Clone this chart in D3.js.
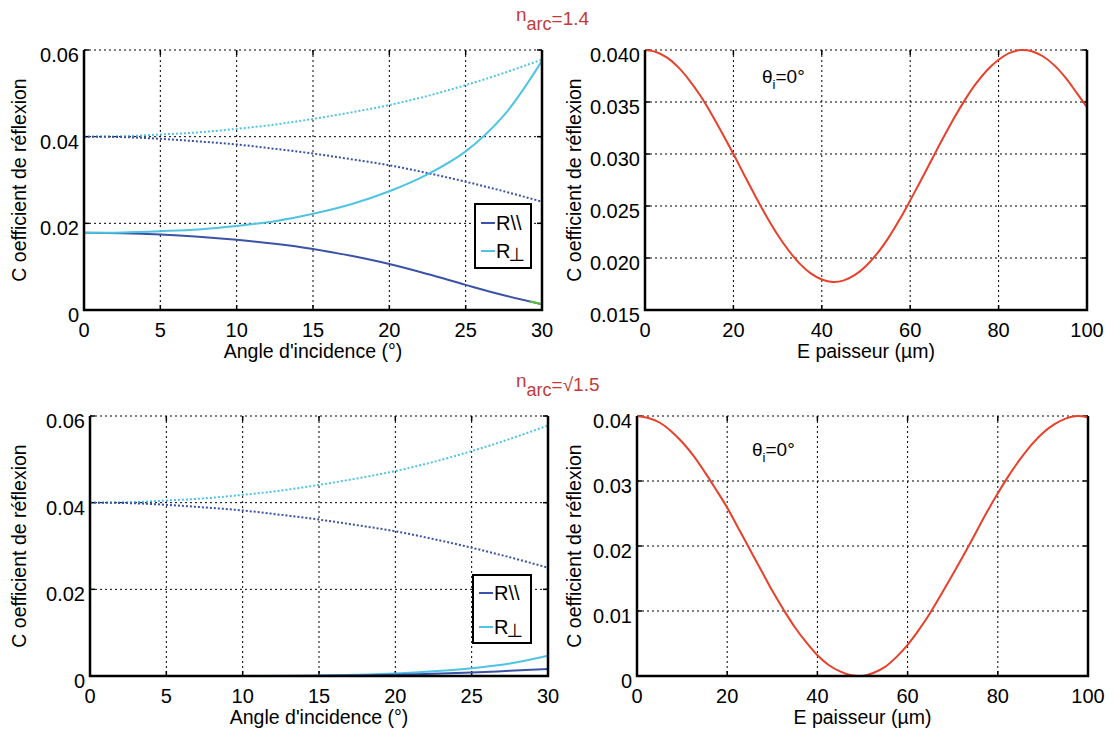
<!DOCTYPE html>
<html><head><meta charset="utf-8">
<script src="https://cdn.jsdelivr.net/npm/d3@7"></script>
<style>
body{margin:0;background:#fff}
text{font-family:"Liberation Sans",Arial,sans-serif;fill:#000}
</style>
</head><body>
<svg id="c" width="1114" height="731"></svg>
<script>
// ---------- data ----------
const angles = [0,2.5,5,7.5,10,12.5,15,17.5,20,22.5,25,27.5,30];
const rsBare = [0.0400,0.0401,0.0405,0.0410,0.0418,0.0428,0.0441,0.0456,0.0473,0.0494,0.0519,0.0547,0.0578];
const rpBare = [0.0400,0.0399,0.0395,0.0389,0.0382,0.0372,0.0361,0.0348,0.0334,0.0316,0.0296,0.0274,0.0250];
const rPerp14 = [0.0178,0.0179,0.0182,0.0186,0.0194,0.0205,0.0222,0.0244,0.0274,0.0313,0.0366,0.0449,0.0575];
const rPar14  = [0.0178,0.0177,0.0174,0.0169,0.0162,0.0153,0.0141,0.0125,0.0106,0.0083,0.0058,0.0034,0.0013];
const greenAngles = [29.2,30];
const greenVals = [0.0020,0.0013];
const rPerpSqrt = [0,0,0,0,0.00002,0.00005,0.0001,0.0003,0.0006,0.0011,0.0018,0.0029,0.0047];
const rParSqrt  = [0,0,0,0,0.00001,0.00002,0.00005,0.0001,0.0003,0.0005,0.0008,0.0012,0.0016];

const thickness = [0,2.5,5,7.5,10,12.5,15,17.5,20,22.5,25,27.5,30,32.5,35,37.5,40,42.5,45,47.5,50,52.5,55,57.5,60,62.5,65,67.5,70,72.5,75,77.5,80,82.5,85,87.5,90,92.5,95,97.5,100];
const rThick14 = [0.04000,0.03981,0.03926,0.03835,0.03711,0.03562,0.03388,0.03198,0.03000,0.02794,0.02592,0.02400,0.02224,0.02072,0.01946,0.01852,0.01793,0.01770,0.01785,0.01837,0.01924,0.02042,0.02189,0.02362,0.02554,0.02753,0.02956,0.03158,0.03351,0.03528,0.03683,0.03810,0.03906,0.03973,0.03999,0.03988,0.03940,0.03857,0.03741,0.03598,0.03450];
const rThickSqrt = [0.0400,0.0397,0.0390,0.0377,0.0360,0.0339,0.0314,0.0287,0.0259,0.0227,0.0195,0.0163,0.0131,0.0102,0.0075,0.0052,0.0032,0.0017,0.0007,0.0001,0.0000,0.0005,0.0014,0.0029,0.0048,0.0071,0.0097,0.0126,0.0156,0.0187,0.0219,0.0251,0.0281,0.0309,0.0334,0.0356,0.0374,0.0387,0.0396,0.0400,0.0398];

const angleTicks = [0,5,10,15,20,25,30];
const leftYTicks = [0,0.02,0.04,0.06];
const leftYLabels = ["0","0.02","0.04","0.06"];
const thickTicks = [0,20,40,60,80,100];
const trYTicks = [0.015,0.020,0.025,0.030,0.035,0.040];
const trYLabels = ["0.015","0.020","0.025","0.030","0.035","0.040"];
const brYTicks = [0,0.01,0.02,0.03,0.04];
const brYLabels = ["0","0.01","0.02","0.03","0.04"];

const C_DARK = "#3a53a6", C_LIGHT = "#4fc4e2", C_RED = "#e8402a", C_GREEN = "#5cbf3a", C_TITLE = "#c23b3b";

const svg = d3.select("#c");

function zip(xs, ys){ return xs.map((x,i)=>[x, ys[i]]); }

let clipId = 0;
function panel(cfg){
  const g = svg.append("g");
  const x = d3.scaleLinear().domain(cfg.xDomain).range([cfg.x0, cfg.x1]);
  const y = d3.scaleLinear().domain(cfg.yDomain).range([cfg.y1, cfg.y0]);
  const id = "clip" + (clipId++);
  svg.append("clipPath").attr("id", id).append("rect")
    .attr("x", cfg.x0).attr("y", cfg.y0 - 2).attr("width", cfg.x1 - cfg.x0).attr("height", cfg.y1 - cfg.y0 + 3);

  // grid
  g.selectAll(".gx").data(cfg.xTicks.slice(1, -1)).join("line")
    .attr("x1", d=>x(d)).attr("x2", d=>x(d)).attr("y1", cfg.y0).attr("y2", cfg.y1)
    .attr("stroke", "#000").attr("stroke-width", 1).attr("stroke-dasharray", "2,3");
  g.selectAll(".gy").data(cfg.yTicks.slice(1)).join("line")
    .attr("x1", cfg.x0).attr("x2", cfg.x1).attr("y1", d=>y(d)).attr("y2", d=>y(d))
    .attr("stroke", "#000").attr("stroke-width", 1).attr("stroke-dasharray", "2,3");

  // ticks (inward, all sides)
  const tk = 5;
  g.selectAll(".tb").data(cfg.xTicks).join("line")
    .attr("x1", d=>x(d)).attr("x2", d=>x(d)).attr("y1", cfg.y1).attr("y2", cfg.y1 - tk)
    .attr("stroke", "#000").attr("stroke-width", 1.5);
  g.selectAll(".tt").data(cfg.xTicks).join("line")
    .attr("x1", d=>x(d)).attr("x2", d=>x(d)).attr("y1", cfg.y0).attr("y2", cfg.y0 + tk)
    .attr("stroke", "#000").attr("stroke-width", 1.5);
  g.selectAll(".tl").data(cfg.yTicks).join("line")
    .attr("x1", cfg.x0).attr("x2", cfg.x0 + tk).attr("y1", d=>y(d)).attr("y2", d=>y(d))
    .attr("stroke", "#000").attr("stroke-width", 1.5);
  g.selectAll(".tr").data(cfg.yTicks).join("line")
    .attr("x1", cfg.x1).attr("x2", cfg.x1 - tk).attr("y1", d=>y(d)).attr("y2", d=>y(d))
    .attr("stroke", "#000").attr("stroke-width", 1.5);

  // series
  const line = d3.line().x(d=>x(d[0])).y(d=>y(d[1])).curve(d3.curveCatmullRom.alpha(0.5));
  const lg = g.append("g").attr("clip-path", `url(#${id})`);
  cfg.series.forEach(s=>{
    lg.append("path").attr("d", line(zip(s.x, s.y))).attr("fill", "none")
      .attr("stroke", s.color).attr("stroke-width", s.width || 2)
      .attr("stroke-dasharray", s.dash || null);
  });

  // axes box (left, bottom, right solid)
  g.append("path")
    .attr("d", `M${cfg.x0},${cfg.y0}V${cfg.y1}H${cfg.x1}V${cfg.y0}`)
    .attr("fill", "none").attr("stroke", "#000").attr("stroke-width", 2.5);

  // tick labels
  g.selectAll(".xl").data(cfg.xTicks).join("text")
    .attr("x", d=>x(d)).attr("y", cfg.y1 + 27).attr("text-anchor", "middle")
    .attr("font-size", 20).text(d=>d);
  g.selectAll(".yl").data(cfg.yTicks).join("text")
    .attr("x", cfg.x0 - 5).attr("y", d=>y(d) + 12).attr("text-anchor", "end")
    .attr("font-size", 20).text((d,i)=>cfg.yLabels[i]);

  // axis titles
  g.append("text").attr("x", (cfg.x0 + cfg.x1)/2).attr("y", cfg.y1 + 48)
    .attr("text-anchor", "middle").attr("font-size", 19.5).text(cfg.xTitle);
  g.append("text").attr("transform", `translate(${cfg.yTitleX},${(cfg.y0 + cfg.y1)/2}) rotate(-90)`)
    .attr("text-anchor", "middle").attr("font-size", 19.5).text(cfg.yTitle);

  // legend
  if (cfg.legend){
    const L = cfg.legend;
    g.append("rect").attr("x", L.x).attr("y", L.y).attr("width", L.w).attr("height", L.h)
      .attr("fill", "#fff").attr("stroke", "#000").attr("stroke-width", 2);
    const items = [{c:C_DARK, t:"R\\\\", perp:false}, {c:C_LIGHT, t:"R", perp:true}];
    items.forEach((it,i)=>{
      const cy = L.y + L.rows[i];
      g.append("line").attr("x1", L.x + 6).attr("x2", L.x + 20).attr("y1", cy).attr("y2", cy)
        .attr("stroke", it.c).attr("stroke-width", 2);
      const t = g.append("text").attr("x", L.x + 21).attr("y", cy + 7).attr("font-size", 20).text(it.t);
      if (it.perp) t.append("tspan").attr("dx", -2).attr("dy", 3)
        .style("font-family", "'DejaVu Sans',sans-serif").attr("font-size", 19).text("\u22A5");
    });
  }

  // annotation
  if (cfg.note){
    const t = g.append("text").attr("x", cfg.note.x).attr("y", cfg.note.y).attr("font-size", 19);
    t.append("tspan").text("\u03B8");
    t.append("tspan").attr("font-size", 13).attr("dy", 6).text("i");
    t.append("tspan").attr("dy", -6).text("=0\u00B0");
  }
  return {x, y};
}

function title(xPos, yBase, rest){
  const t = svg.append("text").attr("x", xPos).attr("y", yBase).attr("font-size", 19).style("fill", C_TITLE);
  t.append("tspan").text("n");
  t.append("tspan").attr("dy", 9).attr("font-size", 18).text("arc");
  t.append("tspan").attr("dy", -5).text(rest);
}

const xT = "Angle d'incidence (\u00B0)";
const yT = "C oefficient de r\u00E9flexion";
const eT = "E paisseur (\u00B5m)";

// Top-left
panel({x0:84, x1:542, y0:50, y1:310, xDomain:[0,30], yDomain:[0,0.06],
  xTicks:angleTicks, yTicks:leftYTicks, yLabels:leftYLabels,
  xTitle:xT, yTitle:yT, yTitleX:26,
  series:[
    {x:angles, y:rsBare, color:C_LIGHT, dash:"2,2"},
    {x:angles, y:rpBare, color:C_DARK, dash:"2,2"},
    {x:angles, y:rPar14, color:C_DARK},
    {x:greenAngles, y:greenVals, color:C_GREEN},
    {x:angles, y:rPerp14, color:C_LIGHT}
  ],
  legend:{x:475, y:204, w:56, h:64, rows:[19, 47]}
});

// Top-right
panel({x0:645, x1:1087, y0:50, y1:310, xDomain:[0,100], yDomain:[0.015,0.040],
  xTicks:thickTicks, yTicks:trYTicks, yLabels:trYLabels,
  xTitle:eT, yTitle:yT, yTitleX:581,
  series:[{x:thickness, y:rThick14, color:C_RED}],
  note:{x:762, y:83}
});

// Bottom-left
panel({x0:90, x1:548, y0:416, y1:676, xDomain:[0,30], yDomain:[0,0.06],
  xTicks:angleTicks, yTicks:leftYTicks, yLabels:leftYLabels,
  xTitle:xT, yTitle:yT, yTitleX:26,
  series:[
    {x:angles, y:rsBare, color:C_LIGHT, dash:"2,2"},
    {x:angles, y:rpBare, color:C_DARK, dash:"2,2"},
    {x:angles, y:rPerpSqrt, color:C_LIGHT},
    {x:angles, y:rParSqrt, color:C_DARK}
  ],
  legend:{x:473, y:575, w:58, h:68, rows:[18, 52]}
});

// Bottom-right
panel({x0:637, x1:1088, y0:416, y1:676, xDomain:[0,100], yDomain:[0,0.04],
  xTicks:thickTicks, yTicks:brYTicks, yLabels:brYLabels,
  xTitle:eT, yTitle:yT, yTitleX:581,
  series:[{x:thickness, y:rThickSqrt, color:C_RED}],
  note:{x:752, y:456}
});

title(516, 21, "=1.4");
title(516, 387, "=\u221A1.5");
</script>
</body></html>
